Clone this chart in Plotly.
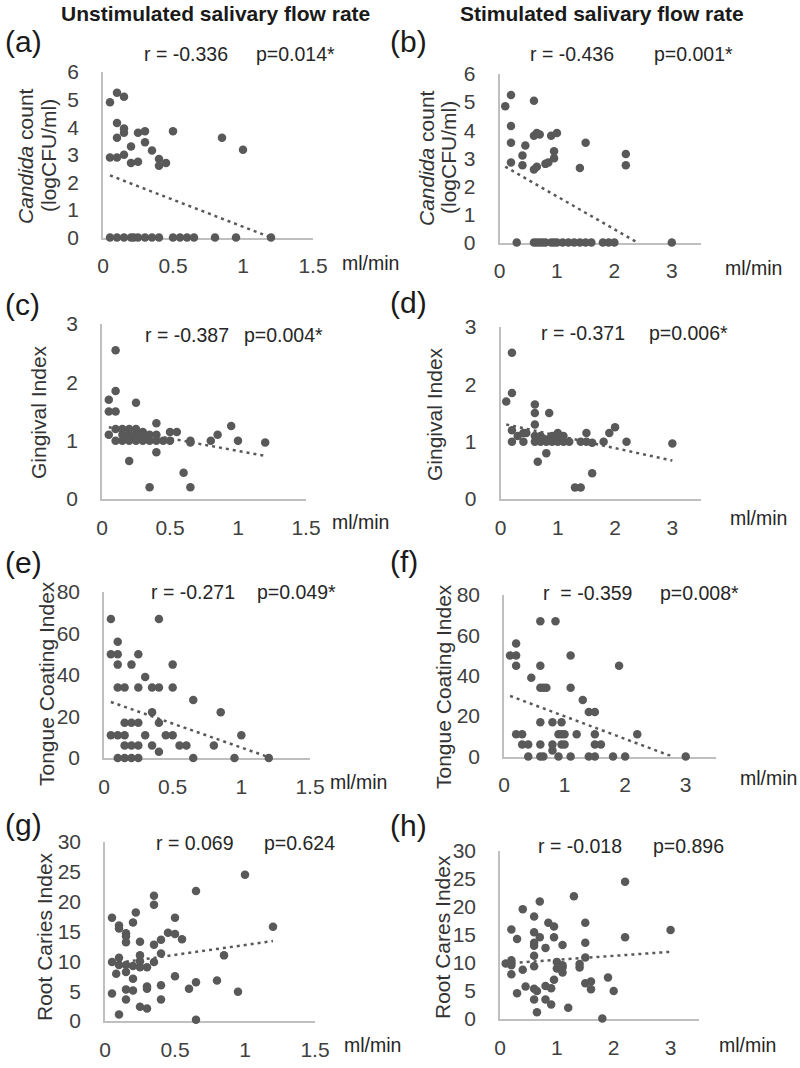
import plotly.graph_objects as go

# ---------------- data ----------------
# (a) Unstimulated flow vs Candida count
a_x = [0.05, 0.1, 0.15, 0.1, 0.15, 0.15, 0.25, 0.3, 0.5, 0.1, 0.85, 1.0, 0.05, 0.1, 0.15, 0.2, 0.2, 0.25, 0.3, 0.35, 0.4, 0.4, 0.45,
       0.05, 0.1, 0.15, 0.2, 0.22, 0.25, 0.3, 0.35, 0.4, 0.5, 0.55, 0.6, 0.65, 0.8, 0.95, 1.2]
a_y = [4.9, 5.25, 5.1, 4.15, 3.95, 3.8, 3.8, 3.85, 3.85, 3.62, 3.62, 3.18, 2.9, 2.9, 3.0, 3.3, 2.7, 2.75, 3.45, 3.15, 2.85, 2.6, 2.7,
       0, 0, 0, 0, 0, 0, 0, 0, 0, 0, 0, 0, 0, 0, 0, 0]
a_trend_x = [0.05, 1.2]
a_trend_y = [2.25, 0.0]

# (b) Stimulated flow vs Candida count
b_x = [0.1, 0.2, 0.6, 0.2, 0.6, 0.65, 0.7, 0.9, 1.0, 1.5, 0.2, 0.45, 0.4, 0.2, 0.4, 0.6, 0.65, 0.8, 0.85, 0.95, 0.95, 1.4, 2.2, 2.2,
       0.3, 0.6, 0.65, 0.7, 0.75, 0.8, 0.9, 0.95, 1.0, 1.1, 1.2, 1.3, 1.4, 1.5, 1.6, 1.8, 1.9, 2.0, 3.0]
b_y = [4.85, 5.25, 5.05, 4.15, 3.8, 3.9, 3.85, 3.8, 3.9, 3.55, 3.55, 3.45, 3.1, 2.85, 2.75, 2.6, 2.7, 2.8, 2.85, 3.0, 3.25, 2.65, 3.15, 2.75,
       0, 0, 0, 0, 0, 0, 0, 0, 0, 0, 0, 0, 0, 0, 0, 0, 0, 0, 0]
b_trend_x = [0.1, 2.4]
b_trend_y = [2.7, 0.0]

# (c) Unstimulated flow vs Gingival Index
c_x = [0.1, 0.1, 0.05, 0.05, 0.1, 0.25, 0.4, 0.95, 0.1,
       0.15, 0.2, 0.25, 0.3, 0.5, 0.55, 0.05, 0.15, 0.2, 0.25, 0.3, 0.35, 0.4, 0.2, 0.3,
       0.1, 0.15, 0.2, 0.25, 0.3, 0.35, 0.4, 0.45, 0.5, 0.65, 0.65,
       0.8, 0.85, 1.0, 1.2, 0.4, 0.2, 0.6, 0.35, 0.65]
c_y = [2.55, 1.85, 1.7, 1.5, 1.5, 1.65, 1.3, 1.25, 1.2,
       1.2, 1.2, 1.2, 1.15, 1.15, 1.15, 1.1, 1.1, 1.1, 1.1, 1.1, 1.1, 1.1, 1.05, 1.05,
       1.0, 1.0, 1.0, 1.0, 1.0, 1.0, 1.0, 1.0, 1.0, 1.0, 0.97,
       1.0, 1.1, 1.0, 0.97, 0.8, 0.65, 0.45, 0.2, 0.2]
c_trend_x = [0.05, 1.2]
c_trend_y = [1.23, 0.74]

# (d) Stimulated flow vs Gingival Index
d_x = [0.2, 0.2, 0.1, 0.6, 0.6, 0.85, 0.6, 2.0, 1.9, 0.2,
       0.2, 0.4, 0.3, 0.4, 0.45, 0.6, 0.65, 0.7, 0.75, 0.8, 0.85, 0.9, 0.95, 1.0, 1.0, 1.05, 1.1, 1.1, 1.2, 0.6, 0.7, 0.9,
       1.4, 1.5, 1.5, 1.6, 1.8, 2.2, 3.0, 0.65, 0.8, 1.6, 1.3, 1.4]
d_y = [2.55, 1.85, 1.7, 1.65, 1.5, 1.5, 1.3, 1.25, 1.15, 1.2,
       1.0, 1.0, 1.1, 1.15, 1.15, 1.0, 1.05, 1.0, 1.05, 1.0, 1.05, 1.0, 1.1, 1.0, 1.15, 1.05, 1.0, 1.1, 1.0, 1.1, 1.1, 1.1,
       1.0, 1.15, 1.0, 0.98, 1.0, 1.0, 0.97, 0.65, 0.8, 0.45, 0.2, 0.2]
d_trend_x = [0.1, 3.0]
d_trend_y = [1.3, 0.67]

# (e) Unstimulated flow vs Tongue Coating Index
e_x = [0.05, 0.4, 0.1, 0.05, 0.1, 0.25, 0.1, 0.2, 0.5, 0.3, 0.1, 0.15, 0.25, 0.35, 0.4, 0.5, 0.65, 0.85, 0.35,
       0.4, 0.15, 0.2, 0.25, 0.05, 0.1, 0.15, 0.3, 0.45, 0.5, 1.0, 0.15, 0.2, 0.25, 0.35, 0.55, 0.6, 0.8, 0.4,
       0.1, 0.15, 0.2, 0.25, 0.65, 0.95, 1.2]
e_y = [67, 67, 56, 50, 50, 50, 45, 45, 45, 39, 34, 34, 34, 34, 34, 34, 28, 22, 22,
       17, 17, 17, 17, 11, 11, 11, 11, 11, 11, 11, 6, 6, 6, 6, 6, 6, 6, 3,
       0, 0, 0, 0, 0, 0, 0]
e_trend_x = [0.05, 1.2]
e_trend_y = [27, 0.4]

# (f) Stimulated flow vs Tongue Coating Index
f_x = [0.6, 0.85, 0.2, 0.1, 0.2, 1.1, 0.2, 0.6, 1.9, 0.45, 0.6, 0.65, 0.7, 1.1, 1.3, 1.4, 1.5, 0.6, 0.8, 0.95,
       0.2, 0.3, 0.9, 0.95, 1.0, 1.2, 1.5, 2.2, 0.3, 0.4, 0.6, 0.8, 0.95, 1.0, 1.5, 1.6, 0.8,
       0.4, 0.6, 0.65, 0.9, 1.1, 1.4, 1.5, 1.8, 2.0, 3.0]
f_y = [67, 67, 56, 50, 50, 50, 45, 45, 45, 39, 34, 34, 34, 34, 28, 22, 22, 17, 17, 17,
       11, 11, 11, 11, 11, 11, 11, 11, 6, 6, 6, 6, 6, 6, 6, 6, 3,
       0, 0, 0, 0, 0, 0, 0, 0, 0, 0]
f_trend_x = [0.1, 2.75]
f_trend_y = [30, 0.3]

# (g) Unstimulated flow vs Root Caries Index
g_x = [1.0, 0.65, 0.35, 0.35, 0.22, 0.05, 0.5, 0.2, 0.1, 0.1, 1.2, 0.15, 0.15, 0.15, 0.45, 0.5, 0.55, 0.25, 0.4,
       0.35, 0.4, 0.85, 0.25, 0.1, 0.05, 0.35, 0.25, 0.1, 0.15, 0.2, 0.25, 0.3, 0.15, 0.08, 0.5, 0.2, 0.8, 0.65,
       0.3, 0.3, 0.4, 0.6, 0.15, 0.2, 0.95, 0.05, 0.15, 0.4, 0.25, 0.3, 0.1, 0.65]
g_y = [24.5, 21.8, 21.0, 19.5, 18.2, 17.3, 17.3, 16.5, 16.0, 15.5, 15.8, 14.7, 14.2, 13.2, 14.8, 14.6, 13.7, 13.3, 13.6,
       12.8, 11.3, 11.0, 11.0, 10.6, 9.9, 9.9, 10.0, 9.4, 9.4, 9.2, 9.0, 9.0, 8.2, 7.9, 7.5, 7.1, 6.8, 6.5,
       5.8, 5.4, 6.0, 5.4, 5.3, 5.1, 4.9, 4.6, 3.6, 3.6, 2.4, 2.1, 1.1, 0.2]
g_trend_x = [0.05, 1.2]
g_trend_y = [9.6, 13.4]

# (h) Stimulated flow vs Root Caries Index
h_x = [2.2, 1.3, 0.7, 0.4, 0.6, 0.85, 1.5, 0.95, 0.2, 3.0, 0.6, 0.3, 0.7, 0.95, 2.2, 0.6, 0.6, 1.5, 1.1, 0.8,
       0.6, 1.5, 0.2, 0.1, 0.2, 1.0, 1.1, 1.4, 1.4, 0.6, 1.0, 1.1, 0.4, 1.1, 0.2, 1.9, 0.95, 1.5, 1.6,
       0.45, 0.8, 0.9, 0.6, 0.65, 1.6, 2.0, 0.3, 0.6, 0.8, 0.9, 1.2, 0.65, 1.8]
h_y = [24.5, 21.9, 21.0, 19.6, 18.3, 17.2, 17.2, 16.5, 16.0, 15.9, 15.5, 14.3, 14.6, 14.6, 14.6, 13.6, 13.1, 13.6, 13.2, 12.7,
       11.3, 11.0, 10.5, 9.9, 9.6, 10.2, 9.6, 9.8, 9.2, 9.4, 9.0, 9.2, 8.8, 8.3, 8.0, 7.4, 7.0, 6.4, 6.7,
       5.8, 5.9, 5.5, 5.4, 5.0, 5.3, 5.0, 4.6, 3.5, 3.5, 2.6, 2.0, 1.2, 0.1]
h_trend_x = [0.1, 3.0]
h_trend_y = [9.9, 12.0]

# tick labels
x_ticks_unstim = [0, 0.5, 1, 1.5]
x_ticktext_unstim = ["0", "0.5", "1", "1.5"]
x_ticks_stim = [0, 1, 2, 3]
y_ticks_candida = [0, 1, 2, 3, 4, 5, 6]
y_ticks_gingival = [0, 1, 2, 3]
y_ticks_tongue = [0, 20, 40, 60, 80]
y_ticks_root = [0, 5, 10, 15, 20, 25, 30]

stats = [("r = -0.336", "p=0.014*"), ("r = -0.436", "p=0.001*"),
         ("r = -0.387", "p=0.004*"), ("r = -0.371", "p=0.006*"),
         ("r = -0.271", "p=0.049*"), ("r  = -0.359", "p=0.008*"),
         ("r = 0.069", "p=0.624"), ("r = -0.018", "p=0.896")]
panel_letters = ["(a)", "(b)", "(c)", "(d)", "(e)", "(f)", "(g)", "(h)"]

# ---------------- layout geometry (pixels) ----------------
W, H = 800, 1068
FONT = "Liberation Sans, Arial, sans-serif"
MARK = "#595959"
AXC = "#bfbfbf"
TXT = "#262626"
TICKC = "#404040"

# x0px, x1px, xmax, ybot px, ytop px, ymax
geom = [
    (103, 313, 1.5, 237.5, 72, 6),
    (499.5, 700.5, 3.5, 242.5, 74, 6),
    (102, 306, 1.5, 499, 324, 3),
    (500.5, 701, 3.5, 499, 327, 3),
    (104, 310, 1.5, 758, 592, 80),
    (504, 716, 3.5, 756.5, 595, 80),
    (105, 315, 1.5, 1021, 842, 30),
    (500, 699, 3.5, 1019, 851, 30),
]
series = [(a_x, a_y, a_trend_x, a_trend_y), (b_x, b_y, b_trend_x, b_trend_y),
          (c_x, c_y, c_trend_x, c_trend_y), (d_x, d_y, d_trend_x, d_trend_y),
          (e_x, e_y, e_trend_x, e_trend_y), (f_x, f_y, f_trend_x, f_trend_y),
          (g_x, g_y, g_trend_x, g_trend_y), (h_x, h_y, h_trend_x, h_trend_y)]
yticks = [y_ticks_candida, y_ticks_candida, y_ticks_gingival, y_ticks_gingival,
          y_ticks_tongue, y_ticks_tongue, y_ticks_root, y_ticks_root]

fig = go.Figure()
layout = dict(width=W, height=H, margin=dict(l=0, r=0, t=0, b=0, pad=0, autoexpand=False), autosize=False,
              paper_bgcolor="white", plot_bgcolor="white", showlegend=False,
              font=dict(family=FONT, color=TXT))
annotations = []

def px(x):
    return x / W

def py(y):
    return 1 - y / H

for i, ((x0, x1, xmax, yb, yt, ymax), (sx, sy, tx, ty), yt_vals) in enumerate(zip(geom, series, yticks)):
    n = "" if i == 0 else str(i + 1)
    unstim = (i % 2 == 0)
    layout["xaxis" + n] = dict(
        domain=[px(x0), px(x1)], range=[0, xmax], anchor="y" + n,
        showline=True, linecolor=AXC, linewidth=1.5, showgrid=False, zeroline=False,
        tickvals=x_ticks_unstim if unstim else x_ticks_stim,
        ticktext=x_ticktext_unstim if unstim else [str(v) for v in x_ticks_stim],
        ticks="", ticklabelstandoff=9, tickfont=dict(size=21, color=TICKC, family=FONT),
        layer="below traces", fixedrange=True)
    layout["yaxis" + n] = dict(
        domain=[py(yb), py(yt)], range=[0, ymax], anchor="x" + n,
        showline=True, linecolor=AXC, linewidth=1.5, showgrid=False, zeroline=False,
        tickvals=yt_vals, ticks="", ticklabelstandoff=18,
        tickfont=dict(size=21, color=TICKC, family=FONT),
        layer="below traces", fixedrange=True)
    xa = "x" + n
    ya = "y" + n
    fig.add_trace(go.Scatter(x=tx, y=ty, mode="lines", xaxis=xa, yaxis=ya,
                             line=dict(color=MARK, width=2.5, dash="3px,4px"),
                             hoverinfo="skip", cliponaxis=False))
    fig.add_trace(go.Scatter(x=sx, y=sy, mode="markers", xaxis=xa, yaxis=ya,
                             marker=dict(color=MARK, size=8.5, line=dict(width=0)),
                             cliponaxis=False))

def add_text(text, x, y, size, xanchor="center", yanchor="middle", bold=False, angle=0, color=TXT):
    if bold:
        text = "<b>" + text + "</b>"
    annotations.append(dict(text=text, x=px(x), y=py(y), xref="paper", yref="paper",
                            xanchor=xanchor, yanchor=yanchor, showarrow=False,
                            textangle=angle, font=dict(size=size, color=color, family=FONT)))

# column headers
add_text("Unstimulated salivary flow rate", 215, 0, 21, yanchor="top", bold=True, color="#1a1a1a")
add_text("Stimulated salivary flow rate", 602, 0, 21, yanchor="top", bold=True, color="#1a1a1a")

# panel letters
letter_pos = [(3, 41), (388, 41), (3, 304), (388, 302), (3, 562), (388, 561), (3, 824), (388, 825)]
for lt, (lx, ly) in zip(panel_letters, letter_pos):
    add_text(lt, lx, ly, 30, xanchor="left", color="#1a1a1a")

# r / p statistics
stat_pos = [((186, 54), (295, 54)), ((572, 54), (693, 54)),
            ((187, 335), (283, 335)), ((583, 333), (688, 333)),
            ((193, 592), (296, 592)), ((587, 593), (699, 593)),
            ((195, 843), (299, 843)), ((580, 846), (688, 846))]
for (rt, pt), ((rx, ry), (qx, qy)) in zip(stats, stat_pos):
    add_text(rt, rx, ry, 19.5)
    add_text(pt, qx, qy, 19.5)

# unit labels
unit_pos = [(340, 263), (723, 268), (330, 522), (728, 518), (328, 782), (738, 778), (342, 1045), (717, 1045)]
for ux, uy in unit_pos:
    add_text("ml/min", ux, uy, 19.5, xanchor="left")

# y-axis titles
TC = "#333333"
add_text("<i>Candida</i> count", 25, 156, 21, angle=-90, color=TC)
add_text("(logCFU/ml)", 48, 156, 21, angle=-90, color=TC)
add_text("<i>Candida</i> count", 426, 158, 21, angle=-90, color=TC)
add_text("(logCFU/ml)", 448, 158, 21, angle=-90, color=TC)
add_text("Gingival Index", 38, 412, 21, angle=-90, color=TC)
add_text("Gingival Index", 435, 414, 21, angle=-90, color=TC)
add_text("Tongue Coating Index", 46, 684, 21, angle=-90, color=TC)
add_text("Tongue Coating Index", 443, 687, 21, angle=-90, color=TC)
add_text("Root Caries Index", 44, 937, 21, angle=-90, color=TC)
add_text("Root Cares Index", 442, 937, 21, angle=-90, color=TC)

layout["annotations"] = annotations
fig.update_layout(**layout)
fig.write_html("out.html", config={"displayModeBar": False},
               post_script="document.body.style.margin='0';document.body.style.overflow='hidden';")
